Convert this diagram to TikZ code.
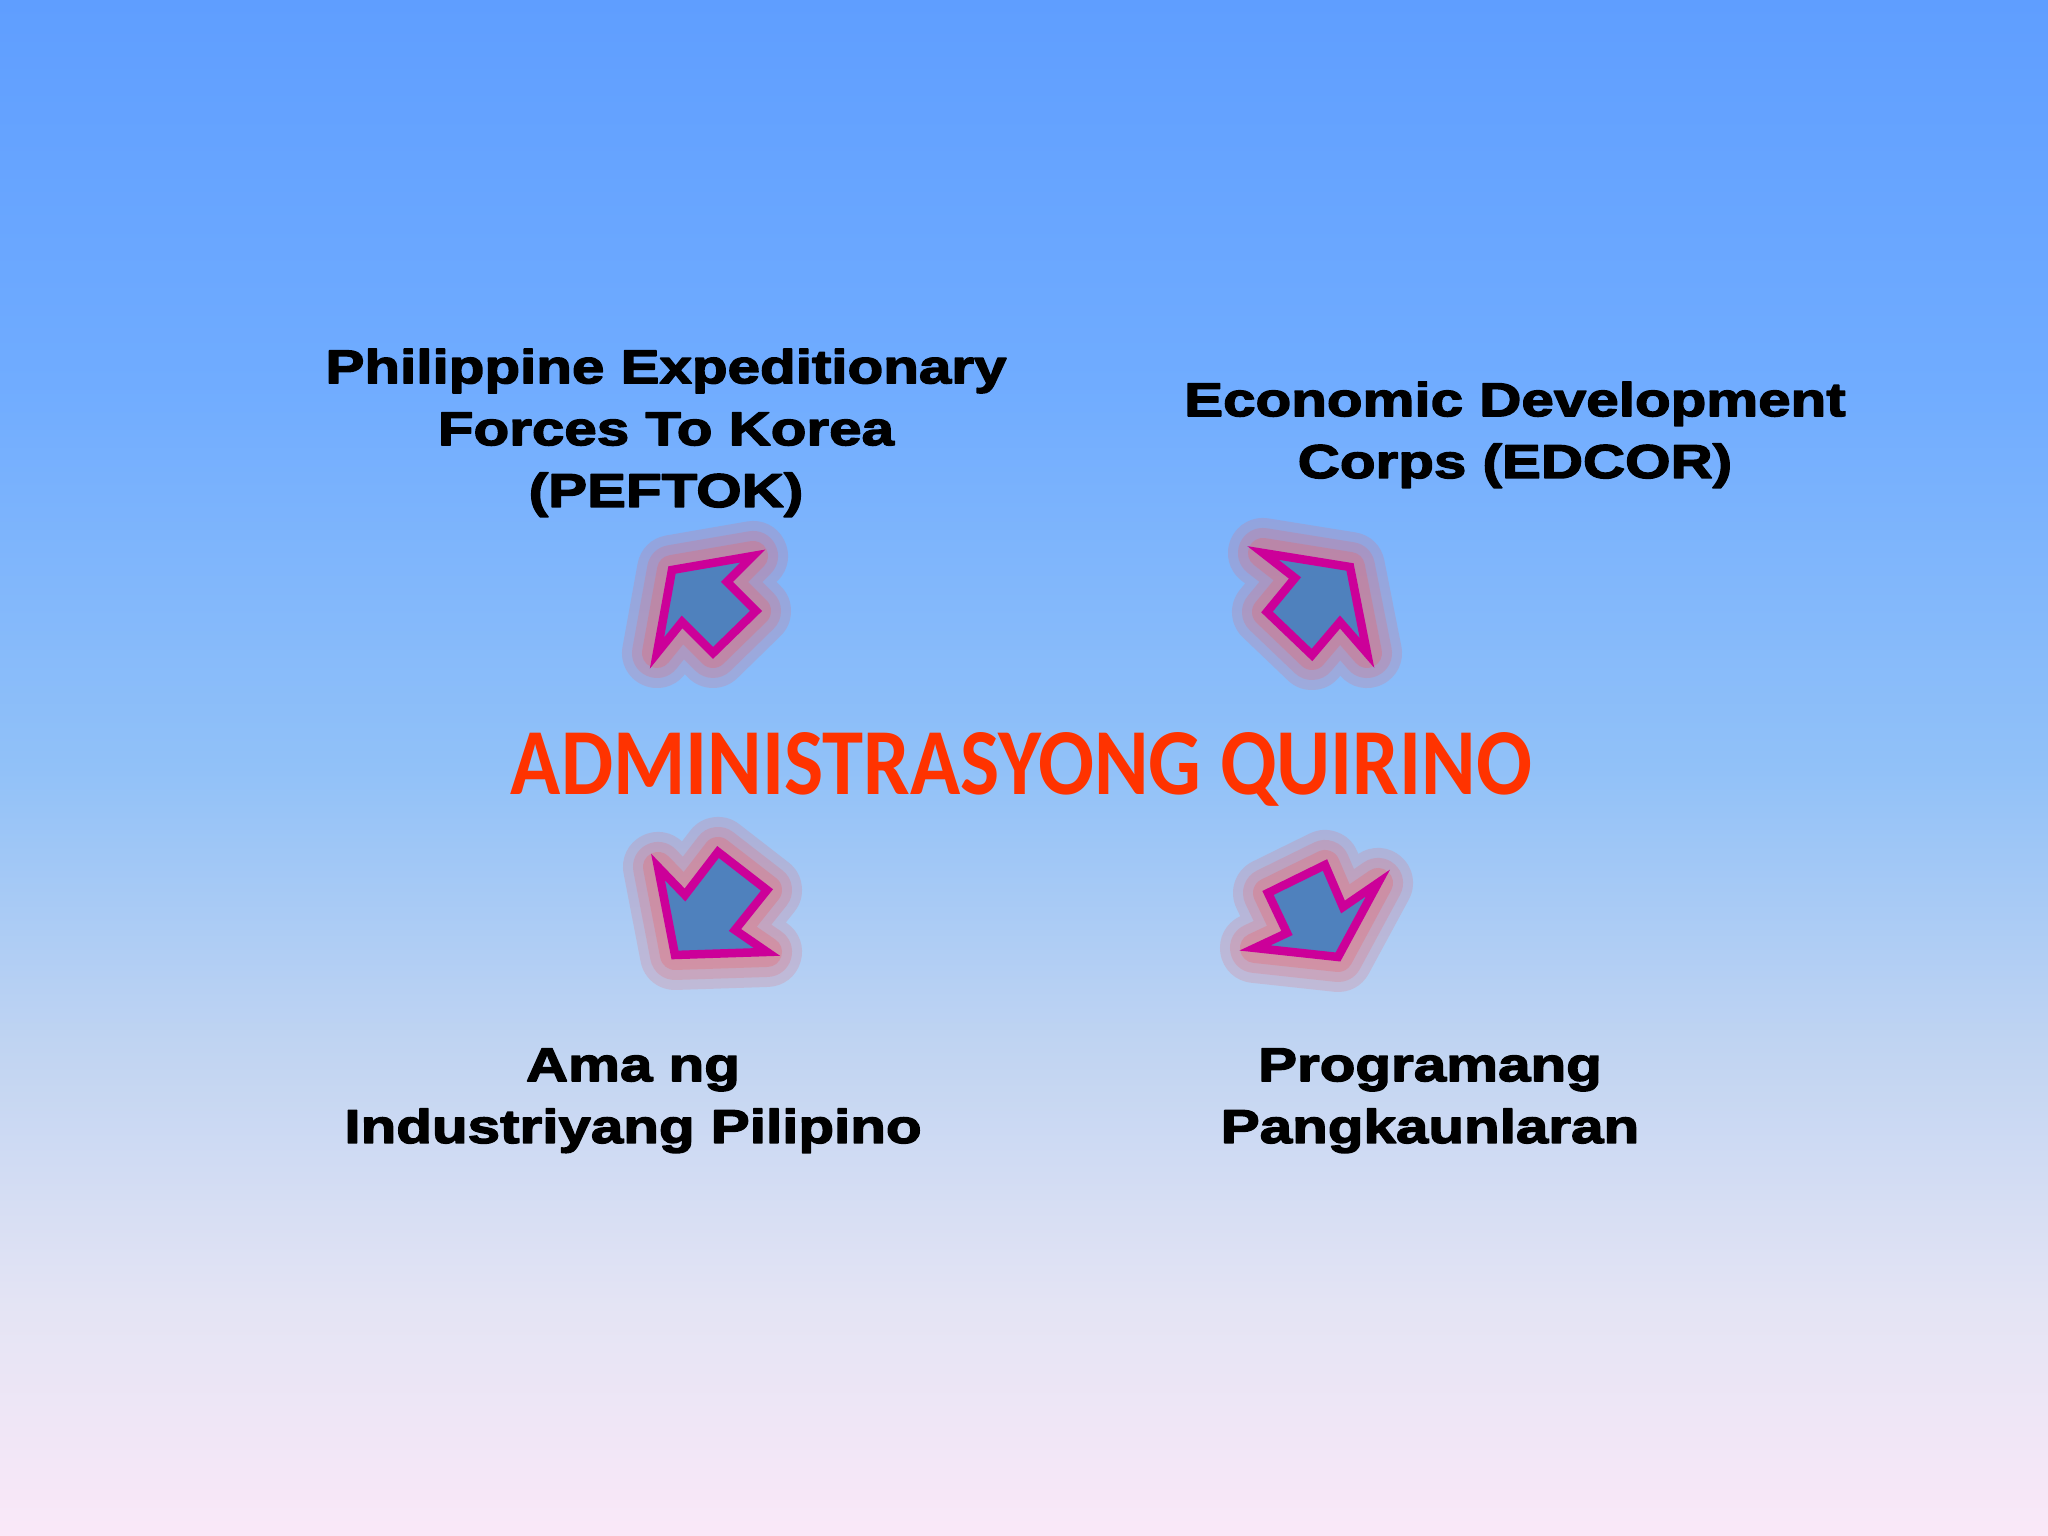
\documentclass[tikz,border=0pt]{standalone}
\usepackage{fontspec}
\usepackage{graphicx}
\newfontfamily\labelfont{Liberation Sans Bold}[FakeStretch=1.23,FakeBold=3]
\newfontfamily\titlefont{Carlito}
\definecolor{skytop}{RGB}{95,158,255}
\definecolor{skyhigh}{RGB}{112,172,255}
\definecolor{skymid}{RGB}{145,193,248}
\definecolor{skylight}{RGB}{192,212,242}
\definecolor{skypale}{RGB}{228,228,244}
\definecolor{skylow}{RGB}{250,232,248}
\definecolor{glowc}{RGB}{235,100,105}
\definecolor{arrowline}{RGB}{204,0,153}
\definecolor{arrowfill}{RGB}{79,129,189}
\definecolor{titlered}{RGB}{255,51,0}
\pgfdeclareverticalshading{skyfade}{100bp}{color(0bp)=(skylow); color(25bp)=(skylow);
  color(32.5bp)=(skypale); color(41bp)=(skylight); color(50bp)=(skymid);
  color(62.5bp)=(skyhigh); color(75bp)=(skytop); color(100bp)=(skytop)}
\tikzset{
  glowing/.style={preaction={draw=glowc,fill=glowc,line width=0.7cm,opacity=0.2},
                  preaction={draw=glowc,line width=0.5cm,opacity=0.22},
                  preaction={draw=glowc,line width=0.3cm,opacity=0.3}},
  bigarrow/.style={glowing,draw=arrowline,fill=arrowfill,line width=0.085cm,line join=miter},
  caption/.style={font=\labelfont\fontsize{13.5pt}{17.6pt}\selectfont,align=center,inner sep=0pt,anchor=base}
}
\begin{document}
\begin{tikzpicture}[line join=round]
	\useasboundingbox (0,0) rectangle (20.48,15.36) ;
	\shade[shading=skyfade] (0,0) rectangle (20.48,15.36) ;
	% the four arrows
	\draw[bigarrow] (6.72,9.66) -- (7.53,9.80) -- (7.27,9.54) -- (7.56,9.25) -- (7.13,8.83) -- (6.82,9.14) -- (6.57,8.83) -- cycle ;
	\draw[bigarrow] (12.63,9.83) -- (13.50,9.69) -- (13.67,8.83) -- (13.40,9.14) -- (13.12,8.81) -- (12.67,9.24) -- (12.95,9.58) -- cycle ;
	\draw[bigarrow] (6.58,6.69) -- (6.85,6.41) -- (7.18,6.84) -- (7.67,6.46) -- (7.35,6.06) -- (7.67,5.84) -- (6.75,5.81) -- cycle ;
	\draw[bigarrow] (12.68,6.43) -- (13.25,6.71) -- (13.43,6.29) -- (13.78,6.53) -- (13.38,5.79) -- (12.55,5.88) -- (12.87,6.03) -- cycle ;
	% title and captions (base = last line)
	\node[inner sep=0pt,anchor=base,text=titlered] (title) at (10.215,7.41) {\resizebox{10.21cm}{0.62cm}{\titlefont\bfseries ADMINISTRASYONG QUIRINO}} ;
	\node[caption] (peftok) at (6.66,10.29) {Philippine Expeditionary\\Forces To Korea\\(PEFTOK)} ;
	\node[caption] (edcor) at (15.15,10.58) {Economic Development\\Corps (EDCOR)} ;
	\node[caption] (ama) at (6.33,3.93) {Ama ng\\Industriyang Pilipino} ;
	\node[caption] (prog) at (14.30,3.93) {Programang\\Pangkaunlaran} ;
\end{tikzpicture}
\end{document}
